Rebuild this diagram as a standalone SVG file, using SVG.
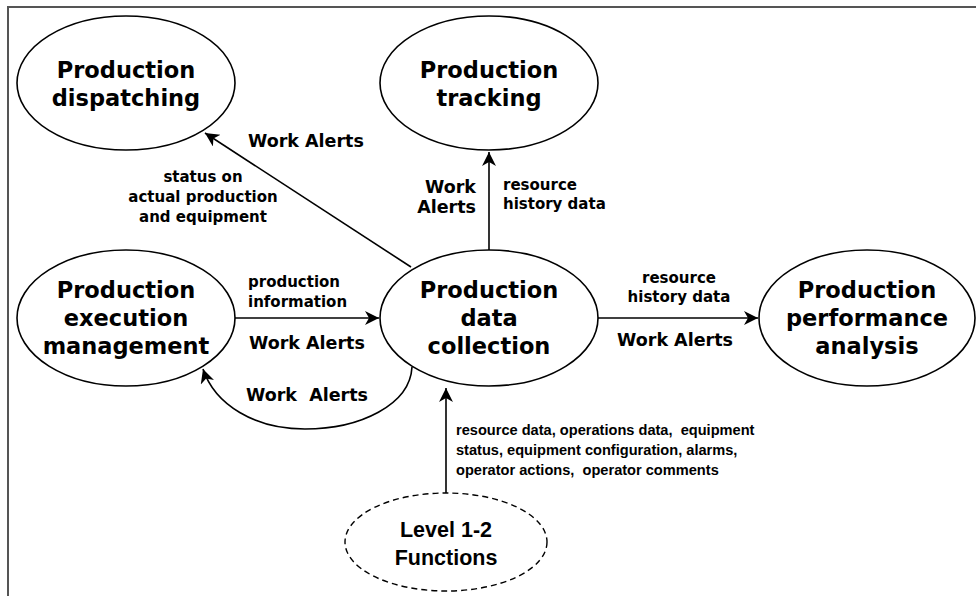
<svg xmlns="http://www.w3.org/2000/svg" width="976" height="596" viewBox="0 0 976 596">
<style>
.node{fill:#fff;stroke:#000;stroke-width:1.6}
.dash{fill:#fff;stroke:#000;stroke-width:1.4;stroke-dasharray:6 4}
.title{font-family:"DejaVu Sans",Verdana,sans-serif;font-weight:bold;font-size:22.5px;text-anchor:middle;fill:#000}
.title2{font-family:"Liberation Sans",Arial,sans-serif;font-weight:bold;font-size:21.5px;text-anchor:middle;fill:#000}
.lbl{font-family:"DejaVu Sans",Verdana,sans-serif;font-weight:bold;font-size:15px;fill:#000}
.wa{font-family:"DejaVu Sans",Verdana,sans-serif;font-weight:bold;font-size:17.5px;fill:#000}
.lbl2{font-family:"Liberation Sans",Arial,sans-serif;font-weight:bold;font-size:14.6px;fill:#000}
.edge{fill:none;stroke:#000;stroke-width:1.6}
</style>
<defs>
<marker id="ah" markerUnits="userSpaceOnUse" markerWidth="16" markerHeight="14" viewBox="-1 -7 16 14" refX="14" refY="0" orient="auto">
<path d="M0,-7 L14,0 L0,7 L4,0 z" fill="#000"/>
</marker>
</defs>
<rect x="0" y="0" width="976" height="596" fill="#fff"/>
<path d="M8,596 V7 H976" fill="none" stroke="#555" stroke-width="2"/>

<g id="connectors">
<line class="edge" x1="411" y1="267" x2="205" y2="133" marker-end="url(#ah)"/>
<line class="edge" x1="489" y1="250" x2="489" y2="152" marker-end="url(#ah)"/>
<line class="edge" x1="235" y1="318" x2="379" y2="318" marker-end="url(#ah)"/>
<line class="edge" x1="598" y1="318" x2="758" y2="318" marker-end="url(#ah)"/>
<line class="edge" x1="446" y1="493" x2="446" y2="388" marker-end="url(#ah)"/>
<path class="edge" d="M412,367 C410,405 360,429 305,429 C255,429 215,405 203,369" marker-end="url(#ah)"/>
<text class="wa" x="248" y="147">Work Alerts</text>
<text class="lbl" x="203" y="182" text-anchor="middle">status on</text>
<text class="lbl" x="203" y="202" text-anchor="middle">actual production</text>
<text class="lbl" x="203" y="222" text-anchor="middle">and equipment</text>
<text class="wa" x="476" y="193" text-anchor="end">Work</text>
<text class="wa" x="476" y="213" text-anchor="end">Alerts</text>
<text class="lbl" x="503" y="190">resource</text>
<text class="lbl" x="503" y="209">history data</text>
<text class="lbl" x="248" y="287">production</text>
<text class="lbl" x="248" y="307">information</text>
<text class="wa" x="249" y="349">Work Alerts</text>
<text class="wa" x="246" y="401" xml:space="preserve">Work  Alerts</text>
<text class="lbl" x="679" y="283" text-anchor="middle">resource</text>
<text class="lbl" x="679" y="302" text-anchor="middle">history data</text>
<text class="wa" x="675" y="346" text-anchor="middle">Work Alerts</text>
<text class="lbl2" x="456" y="435" xml:space="preserve">resource data, operations data,  equipment</text>
<text class="lbl2" x="456" y="455">status, equipment configuration, alarms,</text>
<text class="lbl2" x="456" y="475" xml:space="preserve">operator actions,  operator comments</text>
</g>

<g id="dispatching">
<ellipse class="node" cx="126" cy="83" rx="109" ry="67"/>
<text class="title" x="126" y="78">Production</text>
<text class="title" x="126" y="106">dispatching</text>
</g>
<g id="tracking">
<ellipse class="node" cx="489" cy="83" rx="109" ry="67"/>
<text class="title" x="489" y="78">Production</text>
<text class="title" x="489" y="106">tracking</text>
</g>
<g id="execution">
<ellipse class="node" cx="126" cy="318" rx="109" ry="68"/>
<text class="title" x="126" y="298">Production</text>
<text class="title" x="126" y="326">execution</text>
<text class="title" x="126" y="354">management</text>
</g>
<g id="collection">
<ellipse class="node" cx="489" cy="318" rx="109" ry="68"/>
<text class="title" x="489" y="298">Production</text>
<text class="title" x="489" y="326">data</text>
<text class="title" x="489" y="354">collection</text>
</g>
<g id="performance">
<ellipse class="node" cx="867" cy="318" rx="108" ry="68"/>
<text class="title" x="867" y="298">Production</text>
<text class="title" x="867" y="326">performance</text>
<text class="title" x="867" y="354">analysis</text>
</g>
<g id="level12">
<ellipse class="dash" cx="446" cy="542" rx="101" ry="49"/>
<text class="title2" x="446" y="537">Level 1-2</text>
<text class="title2" x="446" y="565">Functions</text>
</g>
</svg>
